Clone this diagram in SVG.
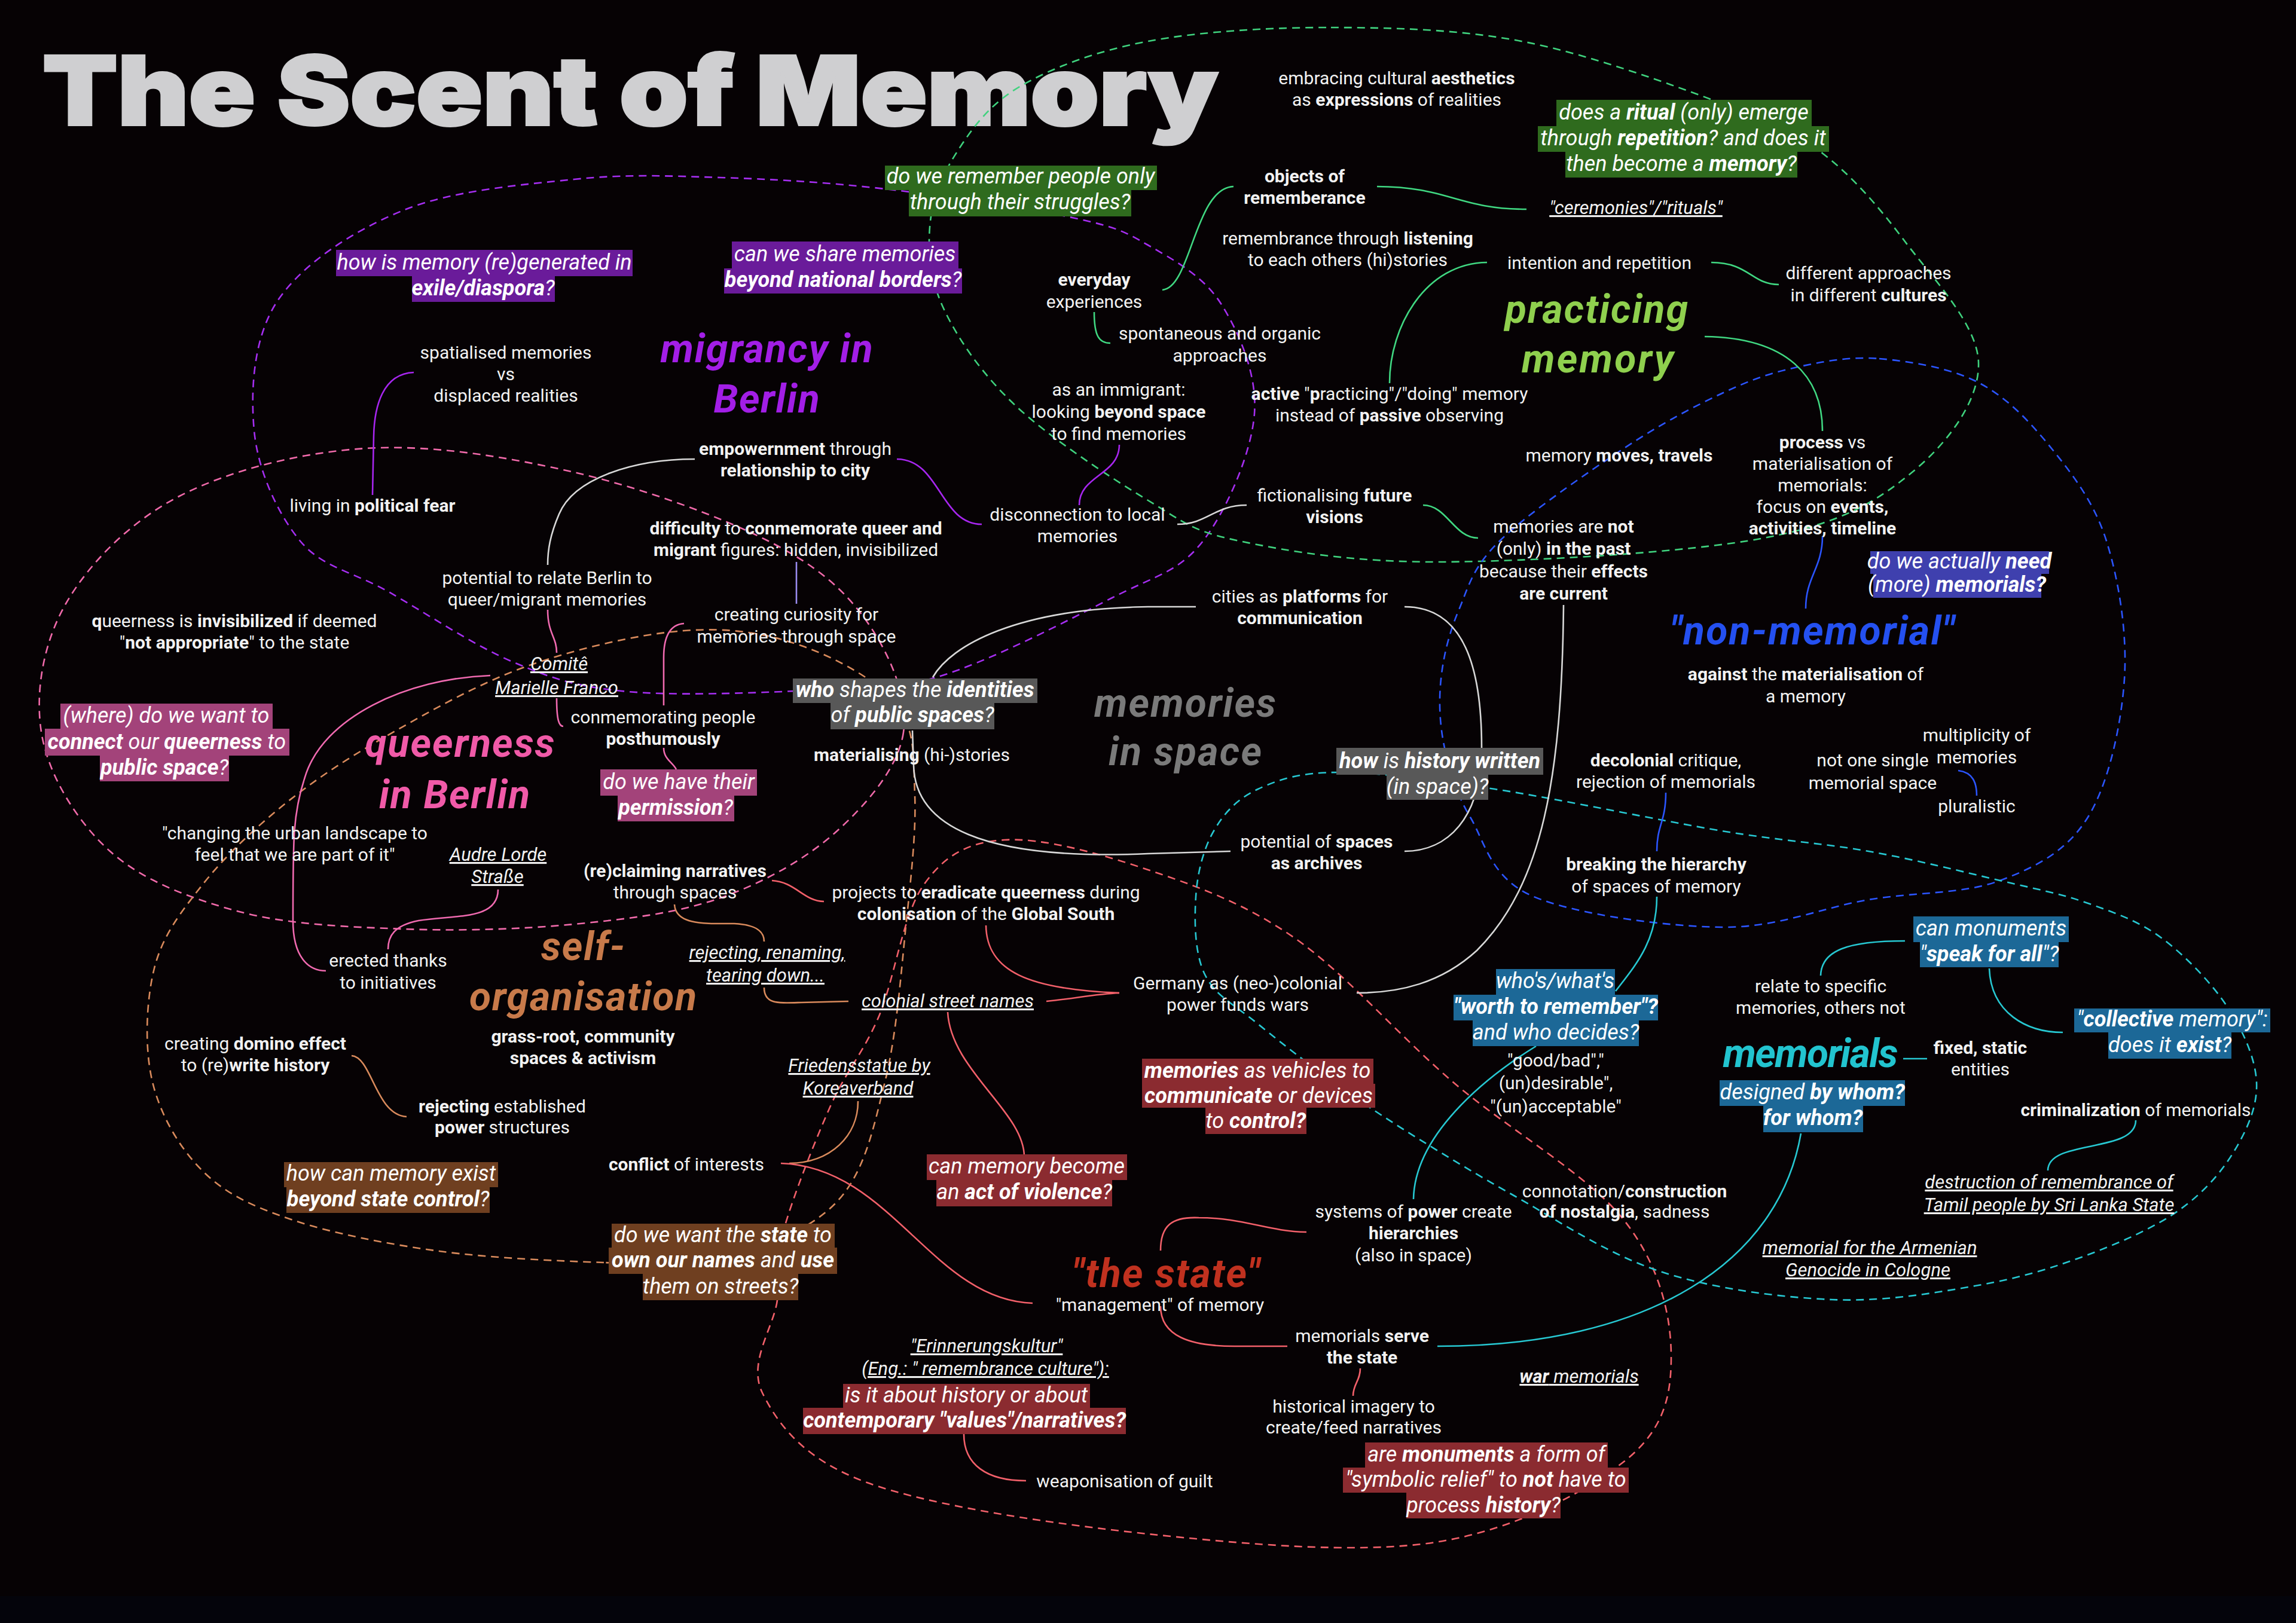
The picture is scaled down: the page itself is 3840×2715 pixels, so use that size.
<svg xmlns="http://www.w3.org/2000/svg" width="3840" height="2715" viewBox="0 0 3840 2715">
<style>
.t{font-family:Roboto,'Noto Sans',sans-serif;font-size:30px;fill:#f2f2f2;text-anchor:middle}
.b{font-weight:700}
.u{font-family:Roboto,'Noto Sans',sans-serif;font-size:31px;font-style:italic;fill:#f2f2f2;text-anchor:middle;text-decoration:underline}
.q{font-family:Roboto,'Noto Sans',sans-serif;font-size:36px;font-style:italic;fill:#ffffff;text-anchor:middle}
.h{font-family:Roboto,'Noto Sans',sans-serif;font-size:66px;font-style:italic;font-weight:700;text-anchor:middle}
.loop{fill:none;stroke-width:2.6;stroke-dasharray:13 9}
.c{fill:none;stroke-width:2.6}
.bp{fill:#6a1b9a}.bg{fill:#2f6b1e}.bk{fill:#585858}.bpk{fill:#a3437a}.bi{fill:#3f40ae}.bt{fill:#1c6897}.br{fill:#8b2b30}.bb{fill:#6f3f20}
</style>
<rect width="3840" height="2715" fill="#060204"/>
<rect y="2670" width="3840" height="45" fill="#04040b"/>

<g id="title"><text x="71" y="209" font-family="Inter, Roboto, 'DejaVu Sans', sans-serif" font-weight="900" font-size="160" fill="#cfcfd1" stroke="#cfcfd1" stroke-width="4" stroke-linejoin="miter" textLength="1966" lengthAdjust="spacingAndGlyphs">The Scent of Memory</text></g>

<g id="regions">
<path class="loop" stroke="#a52ef0" d="M1330,1156 C1242.3,1159.8 1118.8,1164.2 1040,1156 C961.2,1147.8 922,1134.7 857,1107 C792,1079.3 709.2,1023.7 650,990 C590.8,956.3 539.5,950 502,905 C464.5,860 431.2,787.2 425,720 C418.8,652.8 423.5,563.3 465,502 C506.5,440.7 591.5,385.7 674,352 C756.5,318.3 871.5,309.2 960,300 C1048.5,290.8 1118.3,294.3 1205,297 C1291.7,299.7 1382,304.8 1480,316 C1578,327.2 1719.7,348.3 1793,364 C1866.3,379.7 1878.5,386 1920,410 C1961.5,434 2012.3,461 2042,508 C2071.7,555 2103,625.8 2098,692 C2093,758.2 2051.7,853.7 2012,905 C1972.3,956.3 1934.3,962 1860,1000 C1785.7,1038 1654.3,1107 1566,1133 C1477.7,1159 1417.7,1152.2 1330,1156 Z"/>
<path class="loop" stroke="#3fd27e" d="M2226,46 C2331,46.2 2441,48.8 2550,70 C2659,91.2 2797.5,142.3 2880,173 C2962.5,203.7 2994,215.5 3045,254 C3096,292.5 3142,345.3 3186,404 C3230,462.7 3307,541.7 3309,606 C3311,670.3 3257.8,741 3198,790 C3138.2,839 3081.3,875 2950,900 C2818.7,925 2556.2,939.2 2410,940 C2263.8,940.8 2154.7,922.2 2073,905 C1991.3,887.8 1982.2,874.5 1920,837 C1857.8,799.5 1756.7,732.8 1700,680 C1643.3,627.2 1604.2,570 1580,520 C1555.8,470 1551.7,424.2 1555,380 C1558.3,335.8 1574.7,294.3 1600,255 C1625.3,215.7 1653.7,175 1707,144 C1760.3,113 1833.5,85.3 1920,69 C2006.5,52.7 2121,45.8 2226,46 Z"/>
<path class="loop" stroke="#2b55ff" d="M3143,600 C3194.2,604.2 3261,615 3309,640 C3357,665 3395.3,705.8 3431,750 C3466.7,794.2 3502.7,840.7 3523,905 C3543.3,969.3 3558.2,1059 3553,1136 C3547.8,1213 3526.7,1310.8 3492,1367 C3457.3,1423.2 3406.2,1450 3345,1473 C3283.8,1496 3202.5,1492 3125,1505 C3047.5,1518 2973.7,1552 2880,1551 C2786.3,1550 2633.2,1529.7 2563,1499 C2492.8,1468.3 2483.5,1408.3 2459,1367 C2434.5,1325.7 2424.2,1289.5 2416,1251 C2407.8,1212.5 2406,1174.5 2410,1136 C2414,1097.5 2423.7,1058.5 2440,1020 C2456.3,981.5 2462,950 2508,905 C2554,860 2654,791.2 2716,750 C2778,708.8 2832.3,680.5 2880,658 C2927.7,635.5 2958.2,624.7 3002,615 C3045.8,605.3 3091.8,595.8 3143,600 Z"/>
<path class="loop" stroke="#f06aaa" d="M1511,1225 C1502.7,1283.3 1451,1343.8 1400,1390 C1349,1436.2 1278.3,1476 1205,1502 C1131.7,1528 1048.7,1537.3 960,1546 C871.3,1554.7 766.3,1557.5 673,1554 C579.7,1550.5 481.5,1546.7 400,1525 C318.5,1503.3 239,1473.2 184,1424 C129,1374.8 82.3,1299 70,1230 C57.7,1161 71.7,1076.7 110,1010 C148.3,943.3 216.3,873.3 300,830 C383.7,786.7 502,756.7 612,750 C722,743.3 847.8,764.2 960,790 C1072.2,815.8 1203.3,863.3 1285,905 C1366.7,946.7 1412.3,986.7 1450,1040 C1487.7,1093.3 1519.3,1166.7 1511,1225 Z"/>
<path class="loop" stroke="#d98a5c" d="M1010,2112 C932.5,2109.2 821.7,2104.8 735,2093 C648.3,2081.2 555.8,2063.2 490,2041 C424.2,2018.8 379.2,1998.5 340,1960 C300.8,1921.5 268.7,1866.7 255,1810 C241.3,1753.3 244.3,1674.7 258,1620 C271.7,1565.3 301.7,1527 337,1482 C372.3,1437 419.5,1391.2 470,1350 C520.5,1308.8 571.7,1274.2 640,1235 C708.3,1195.8 796,1145 880,1115 C964,1085 1067.3,1060.8 1144,1055 C1220.7,1049.2 1280.7,1059.2 1340,1080 C1399.3,1100.8 1468.3,1138.3 1500,1180 C1531.7,1221.7 1527.5,1268.3 1530,1330 C1532.5,1391.7 1523.3,1470 1515,1550 C1506.7,1630 1499.2,1733.3 1480,1810 C1460.8,1886.7 1446.7,1960 1400,2010 C1353.3,2060 1265,2093 1200,2110 C1135,2127 1087.5,2114.8 1010,2112 Z"/>
<path class="loop" stroke="#f2606a" d="M1300,2175 C1294.2,2220 1250,2279.2 1275,2330 C1300,2380.8 1342.5,2440.7 1450,2480 C1557.5,2519.3 1761.7,2549.3 1920,2566 C2078.3,2582.7 2267.3,2600.2 2400,2580 C2532.7,2559.8 2650.2,2496.7 2716,2445 C2781.8,2393.3 2795,2337.3 2795,2270 C2795,2202.7 2776.8,2117.7 2716,2041 C2655.2,1964.3 2521.8,1888.7 2430,1810 C2338.2,1731.3 2250,1628.2 2165,1569 C2080,1509.8 2000.8,1482.3 1920,1455 C1839.2,1427.7 1742.5,1400.8 1680,1405 C1617.5,1409.2 1580,1430.8 1545,1480 C1510,1529.2 1496,1638.3 1470,1700 C1444,1761.7 1415.7,1790 1389,1850 C1362.3,1910 1324.8,2005.8 1310,2060 C1295.2,2114.2 1305.8,2130 1300,2175 Z"/>
<path class="loop" stroke="#27c8d2" d="M2240,1292 C2174,1292 2139,1303.7 2104,1320 C2069,1336.3 2047.3,1360 2030,1390 C2012.7,1420 2002.5,1460 2000,1500 C1997.5,1540 1997.7,1594.5 2015,1630 C2032.3,1665.5 2058.7,1676.3 2104,1713 C2149.3,1749.7 2215.7,1802.2 2287,1850 C2358.3,1897.8 2450.3,1953.8 2532,2000 C2613.7,2046.2 2688.3,2098 2777,2127 C2865.7,2156 2975.3,2170.2 3064,2174 C3152.7,2177.8 3237.7,2162.5 3309,2150 C3380.3,2137.5 3436,2120 3492,2099 C3548,2078 3604.2,2053 3645,2024 C3685.8,1995 3715.5,1960.7 3737,1925 C3758.5,1889.3 3776,1850.2 3774,1810 C3772,1769.8 3751.5,1724.2 3725,1684 C3698.5,1643.8 3653.8,1597.8 3615,1569 C3576.2,1540.2 3537,1527 3492,1511 C3447,1495 3406.2,1487.5 3345,1473 C3283.8,1458.5 3202.5,1437.8 3125,1424 C3047.5,1410.2 2984.2,1407.3 2880,1390 C2775.8,1372.7 2606.7,1336.3 2500,1320 C2393.3,1303.7 2306,1292 2240,1292 Z"/>
</g>

<g id="connectors">
<path class="c" stroke="#a726ef" d="M692,623 C640,625 626,680 625,730 L623,828"/>
<path class="c" stroke="#a726ef" d="M1500,768 C1572,768 1572,877 1642,877"/>
<path class="c" stroke="#a726ef" d="M1872,744 C1872,795 1805,795 1805,845"/>
<path class="c" stroke="#9a8cf0" d="M1332,940 L1332,1010"/>
<path class="c" stroke="#40d882" d="M1944,485 C1992,482 1998,314 2063,312"/>
<path class="c" stroke="#40d882" d="M2303,312 C2420,312 2440,350 2553,350"/>
<path class="c" stroke="#40d882" d="M1830,522 C1830,562 1838,574 1857,574"/>
<path class="c" stroke="#40d882" d="M2487,439 C2385,440 2324,545 2324,641"/>
<path class="c" stroke="#40d882" d="M2862,439 C2925,439 2930,476 2975,476"/>
<path class="c" stroke="#40d882" d="M2851,563 C2990,565 3048,630 3048,721"/>
<path class="c" stroke="#40d882" d="M2380,845 C2420,845 2432,900 2472,900"/>
<path class="c" stroke="#2b55ff" d="M3048,897 C3048,950 3020,965 3020,1018"/>
<path class="c" stroke="#2b55ff" d="M3275,1289 C3300,1292 3306,1310 3306,1331"/>
<path class="c" stroke="#2b55ff" d="M2786,1326 C2786,1375 2771,1380 2771,1424"/>
<path class="c" stroke="#27c8d2" d="M2771,1500 C2771,1575 2735,1615 2702,1658"/>
<path class="c" stroke="#27c8d2" d="M2569,1750 C2480,1805 2366,1900 2364,2006"/>
<path class="c" stroke="#27c8d2" d="M2404,2252 C2760,2252 2975,2110 3012,1896"/>
<path class="c" stroke="#27c8d2" d="M3186,1574 C3090,1574 3046,1590 3045,1632"/>
<path class="c" stroke="#27c8d2" d="M3327,1620 C3330,1695 3390,1727 3450,1727"/>
<path class="c" stroke="#27c8d2" d="M3183,1771 L3223,1771"/>
<path class="c" stroke="#27c8d2" d="M3572,1874 C3572,1930 3425,1905 3425,1958"/>
<path class="c" stroke="#f06ab0" d="M916,1020 C916,1060 931,1065 931,1092"/>
<path class="c" stroke="#f06ab0" d="M820,1130 C680,1135 540,1200 510,1300 C490,1360 490,1400 490,1540 C490,1600 515,1624 545,1624"/>
<path class="c" stroke="#f06ab0" d="M931,1168 C931,1205 935,1215 942,1215"/>
<path class="c" stroke="#f06ab0" d="M1144,1043 C1115,1045 1110,1075 1110,1100 L1110,1180"/>
<path class="c" stroke="#f06ab0" d="M1110,1251 C1110,1270 1125,1275 1131,1287"/>
<path class="c" stroke="#f06ab0" d="M833,1488 C833,1540 760,1530 700,1540 C660,1548 649,1565 649,1588"/>
<path class="c" stroke="#d98a5c" d="M1128,1513 C1130,1548 1180,1545 1228,1545 C1268,1547 1278,1560 1278,1575"/>
<path class="c" stroke="#d98a5c" d="M1278,1652 C1278,1680 1300,1678 1340,1677 L1419,1675"/>
<path class="c" stroke="#d98a5c" d="M588,1766 C622,1768 628,1865 680,1868"/>
<path class="c" stroke="#d98a5c" d="M1435,1842 C1435,1900 1390,1945 1320,1946"/>
<path class="c" stroke="#f2606a" d="M1291,1473 C1330,1475 1345,1508 1378,1508"/>
<path class="c" stroke="#f2606a" d="M1649,1548 C1650,1625 1720,1655 1872,1661"/>
<path class="c" stroke="#f2606a" d="M1750,1675 C1800,1670 1830,1663 1872,1661"/>
<path class="c" stroke="#f2606a" d="M1585,1693 C1590,1790 1713,1860 1713,1935"/>
<path class="c" stroke="#f2606a" d="M1306,1946 C1490,1952 1560,2175 1727,2180"/>
<path class="c" stroke="#f2606a" d="M1941,2092 C1941,2050 1960,2035 2005,2037 C2080,2037 2120,2060 2185,2061"/>
<path class="c" stroke="#f2606a" d="M1941,2185 C1941,2235 1990,2252 2065,2252 L2153,2252"/>
<path class="c" stroke="#f2606a" d="M2275,2289 C2275,2310 2263,2315 2263,2335"/>
<path class="c" stroke="#f2606a" d="M1612,2399 C1612,2450 1650,2477 1716,2477"/>
<path class="c" stroke="#d8d8d8" d="M1162,768 C1060,768 960,800 935,860 C920,895 916,920 916,945"/>
<path class="c" stroke="#d8d8d8" d="M2085,845 C2030,845 2020,877 1969,877"/>
<path class="c" stroke="#d8d8d8" d="M2000,1015 L1920,1015 C1700,1018 1590,1080 1560,1133"/>
<path class="c" stroke="#d8d8d8" d="M2349,1015 C2450,1015 2478,1120 2478,1250 C2478,1370 2420,1424 2349,1424"/>
<path class="c" stroke="#d8d8d8" d="M2058,1424 L1920,1428 C1640,1440 1530,1380 1528,1280 L1526,1222"/>
<path class="c" stroke="#d8d8d8" d="M2615,1012 C2612,1300 2580,1480 2470,1590 C2410,1645 2340,1661 2269,1661"/>
</g>

<g id="n-migrancy"><text class="h" fill="#a21ee6" x="1282" y="606" textLength="355">migrancy in</text><text class="h" fill="#a21ee6" x="1282" y="690" textLength="177">Berlin</text></g>
<g id="n-practicing"><text class="h" fill="#8fd04e" x="2670" y="540" textLength="306">practicing</text><text class="h" fill="#8fd04e" x="2672" y="623" textLength="254">memory</text></g>
<g id="n-memories-space"><text class="h" fill="#7a7a7a" x="1982" y="1199" textLength="304">memories</text><text class="h" fill="#7a7a7a" x="1982" y="1280" textLength="256">in space</text></g>
<g id="n-nonmemorial"><text class="h" fill="#2450f0" x="3031" y="1078" textLength="476">"non-memorial"</text></g>
<g id="n-queerness"><text class="h" fill="#f05aa8" x="769" y="1266" textLength="317">queerness</text><text class="h" fill="#f05aa8" x="760" y="1352" textLength="252">in Berlin</text></g>
<g id="n-selforg"><text class="h" fill="#c87a4a" x="975" y="1606" textLength="140">self-</text><text class="h" fill="#c87a4a" x="975" y="1690" textLength="380">organisation</text></g>
<g id="n-state"><text class="h" fill="#c0311f" x="1950" y="2153" textLength="314">"the state"</text></g>
<g id="n-memorials"><text class="h" fill="#22c4cf" x="3028" y="1785" textLength="293">memorials</text></g>

<g id="n-spatialised"><text class="t" x="846" y="600">spatialised memories</text><text class="t" x="846" y="636">vs</text><text class="t" x="846" y="672">displaced realities</text></g>
<g id="n-fear"><text class="t" x="623" y="856">living in <tspan class="b">political fear</tspan></text></g>
<g id="n-aesthetics"><text class="t" x="2336" y="141">embracing cultural <tspan class="b">aesthetics</tspan></text><text class="t" x="2336" y="177">as <tspan class="b">expressions</tspan> of realities</text></g>
<g id="n-objects"><text class="t b" x="2182" y="305">objects of</text><text class="t b" x="2182" y="341">rememberance</text></g>
<g id="n-listening"><text class="t" x="2254" y="409">remembrance through <tspan class="b">listening</tspan></text><text class="t" x="2254" y="445">to each others (hi)stories</text></g>
<g id="n-intention"><text class="t" x="2675" y="450">intention and repetition</text></g>
<g id="n-cultures"><text class="t" x="3125" y="467">different approaches</text><text class="t" x="3125" y="504">in different <tspan class="b">cultures</tspan></text></g>
<g id="n-everyday"><text class="t b" x="1830" y="478">everyday</text><text class="t" x="1830" y="515">experiences</text></g>
<g id="n-spontaneous"><text class="t" x="2040" y="568">spontaneous and organic</text><text class="t" x="2040" y="605">approaches</text></g>
<g id="n-immigrant"><text class="t" x="1871" y="662">as an immigrant:</text><text class="t" x="1871" y="699">looking <tspan class="b">beyond space</tspan></text><text class="t" x="1871" y="736">to find memories</text></g>
<g id="n-active"><text class="t" x="2324" y="669"><tspan class="b">active</tspan> "<tspan class="b">p</tspan>racticing"/"doing" memory</text><text class="t" x="2324" y="705">instead of <tspan class="b">passive</tspan> observing</text></g>
<g id="n-moves"><text class="t" x="2708" y="772">memory <tspan class="b">moves, travels</tspan></text></g>
<g id="n-process"><text class="t" x="3048" y="750"><tspan class="b">process</tspan> vs</text><text class="t" x="3048" y="786">materialisation of</text><text class="t" x="3048" y="822">memorials:</text><text class="t" x="3048" y="858">focus on <tspan class="b">events,</tspan></text><text class="t b" x="3048" y="894">activities, timeline</text></g>
<g id="n-fictionalising"><text class="t" x="2232" y="839">fictionalising <tspan class="b">future</tspan></text><text class="t b" x="2232" y="875">visions</text></g>
<g id="n-notpast"><text class="t" x="2615" y="891">memories are <tspan class="b">not</tspan></text><text class="t" x="2615" y="928">(only) <tspan class="b">in the past</tspan></text><text class="t" x="2615" y="966">because their <tspan class="b">effects</tspan></text><text class="t b" x="2615" y="1003">are current</text></g>
<g id="n-empowernment"><text class="t" x="1330" y="761"><tspan class="b">empowernment</tspan> through</text><text class="t b" x="1330" y="797">relationship to city</text></g>
<g id="n-disconnection"><text class="t" x="1802" y="871">disconnection to local</text><text class="t" x="1802" y="907">memories</text></g>
<g id="n-difficulty"><text class="t" x="1331" y="894"><tspan class="b">difficulty</tspan> to <tspan class="b">conmemorate queer and</tspan></text><text class="t" x="1331" y="930"><tspan class="b">migrant</tspan> figures: hidden, invisibilized</text></g>
<g id="n-potential-relate"><text class="t" x="915" y="977">potential to relate Berlin to</text><text class="t" x="915" y="1013">queer/migrant memories</text></g>
<g id="n-invisibilized"><text class="t" x="392" y="1049"><tspan class="b">q</tspan>ueerness is <tspan class="b">invisibilized</tspan> if deemed</text><text class="t" x="392" y="1085">"<tspan class="b">not appropriate</tspan>" to the state</text></g>
<g id="n-curiosity"><text class="t" x="1332" y="1038">creating curiosity for</text><text class="t" x="1332" y="1075">memories through space</text></g>
<g id="n-posthumously"><text class="t" x="1109" y="1210">conmemorating people</text><text class="t b" x="1109" y="1246">posthumously</text></g>
<g id="n-materialising"><text class="t" x="1525" y="1273"><tspan class="b">materialising</tspan> (hi-)stories</text></g>
<g id="n-platforms"><text class="t" x="2174" y="1008">cities as <tspan class="b">platforms</tspan> for</text><text class="t b" x="2174" y="1044">communication</text></g>
<g id="n-archives"><text class="t" x="2202" y="1418">potential of <tspan class="b">spaces</tspan></text><text class="t b" x="2202" y="1454">as archives</text></g>
<g id="n-decolonial"><text class="t" x="2786" y="1282"><tspan class="b">decolonial</tspan> critique,</text><text class="t" x="2786" y="1318">rejection of memorials</text></g>
<g id="n-hierarchy"><text class="t b" x="2770" y="1456">breaking the hierarchy</text><text class="t" x="2770" y="1493">of spaces of memory</text></g>
<g id="n-against"><text class="t" x="3020" y="1138"><tspan class="b">against</tspan> the <tspan class="b">materialisation</tspan> of</text><text class="t" x="3020" y="1175">a memory</text></g>
<g id="n-multiplicity"><text class="t" x="3306" y="1240">multiplicity of</text><text class="t" x="3306" y="1277">memories</text></g>
<g id="n-single"><text class="t" x="3132" y="1282">not one single</text><text class="t" x="3132" y="1320">memorial space</text></g>
<g id="n-pluralistic"><text class="t" x="3306" y="1359">pluralistic</text></g>
<g id="n-specific"><text class="t" x="3045" y="1660">relate to specific</text><text class="t" x="3045" y="1696">memories, others not</text></g>
<g id="n-fixed"><text class="t b" x="3312" y="1763">fixed, static</text><text class="t" x="3312" y="1799">entities</text></g>
<g id="n-criminalization"><text class="t" x="3572" y="1867"><tspan class="b">criminalization</tspan> of memorials</text></g>
<g id="n-goodbad"><text class="t" x="2602" y="1784">"good/bad","</text><text class="t" x="2602" y="1822">(un)desirable",</text><text class="t" x="2602" y="1861">"(un)acceptable"</text></g>
<g id="n-nostalgia"><text class="t" x="2717" y="2003">connotation/<tspan class="b">construction</tspan></text><text class="t" x="2717" y="2037"><tspan class="b">of nostalgia</tspan>, sadness</text></g>
<g id="n-power"><text class="t" x="2364" y="2037">systems of <tspan class="b">power</tspan> create</text><text class="t b" x="2364" y="2073">hierarchies</text><text class="t" x="2364" y="2110">(also in space)</text></g>
<g id="n-management"><text class="t" x="1940" y="2193">"management" of memory</text></g>
<g id="n-serve"><text class="t" x="2278" y="2245">memorials <tspan class="b">serve</tspan></text><text class="t b" x="2278" y="2281">the state</text></g>
<g id="n-imagery"><text class="t" x="2264" y="2363">historical imagery to</text><text class="t" x="2264" y="2398">create/feed narratives</text></g>
<g id="n-guilt"><text class="t" x="1881" y="2488">weaponisation of guilt</text></g>
<g id="n-conflict"><text class="t" x="1148" y="1958"><tspan class="b">conflict</tspan> of interests</text></g>
<g id="n-rejecting-power"><text class="t" x="840" y="1861"><tspan class="b">rejecting</tspan> established</text><text class="t" x="840" y="1896"><tspan class="b">power</tspan> structures</text></g>
<g id="n-domino"><text class="t" x="427" y="1756">creating <tspan class="b">domino effect</tspan></text><text class="t" x="427" y="1792">to (re)<tspan class="b">write history</tspan></text></g>
<g id="n-grassroot"><text class="t b" x="975" y="1744">grass-root, community</text><text class="t b" x="975" y="1780">spaces &amp; activism</text></g>
<g id="n-erected"><text class="t" x="649" y="1617">erected thanks</text><text class="t" x="649" y="1654">to initiatives</text></g>
<g id="n-changing"><text class="t" x="493" y="1404">"changing the urban landscape to</text><text class="t" x="493" y="1440">feel that we are part of it"</text></g>
<g id="n-reclaiming"><text class="t b" x="1129" y="1467">(re)claiming narratives</text><text class="t" x="1129" y="1503">through spaces</text></g>
<g id="n-eradicate"><text class="t" x="1649" y="1503">projects to <tspan class="b">eradicate queerness</tspan> during</text><text class="t" x="1649" y="1539"><tspan class="b">colonisation</tspan> of the <tspan class="b">Global South</tspan></text></g>
<g id="n-germany"><text class="t" x="2070" y="1655">Germany as (neo-)colonial</text><text class="t" x="2070" y="1691">power funds wars</text></g>

<g id="n-ceremonies"><text class="u" x="2736" y="358">"ceremonies"/"rituals"</text></g>
<g id="n-comite"><text class="u" x="935" y="1121">Comitê</text><text class="u" x="931" y="1161">Marielle Franco</text></g>
<g id="n-audre"><text class="u" x="833" y="1440">Audre Lorde</text><text class="u" x="832" y="1477">Straße</text></g>
<g id="n-renaming"><text class="u" x="1283" y="1604">rejecting, renaming,</text><text class="u" x="1280" y="1642">tearing down...</text></g>
<g id="n-colonial-streets"><text class="u" x="1585" y="1685">colonial street names</text></g>
<g id="n-friedensstatue"><text class="u" x="1437" y="1793">Friedensstatue by </text><text class="u" x="1435" y="1831">Koreaverband</text></g>
<g id="n-erinnerung"><text class="u" x="1650" y="2262">"Erinnerungskultur" </text><text class="u" x="1648" y="2300">(Eng.: " remembrance culture"):</text></g>
<g id="n-war"><text class="u" x="2641" y="2313"><tspan class="b">war</tspan> memorials</text></g>
<g id="n-tamil"><text class="u" x="3427" y="1988">destruction of remembrance of </text><text class="u" x="3427" y="2026">Tamil people by Sri Lanka State</text></g>
<g id="n-armenian"><text class="u" x="3127" y="2098">memorial for the Armenian </text><text class="u" x="3124" y="2135">Genocide in Cologne</text></g>

<g id="q-exile"><rect class="bp" x="562" y="418" width="496" height="44"/><rect class="bp" x="689" y="462" width="239" height="43"/><text class="q" x="810" y="451">how is memory (re)generated in</text><text class="q" x="808" y="494"><tspan class="b">exile/diaspora</tspan>?</text></g>
<g id="q-borders"><rect class="bp" x="1224" y="404" width="379" height="45"/><rect class="bp" x="1211" y="449" width="398" height="42"/><text class="q" x="1413" y="437">can we share memories</text><text class="q" x="1410" y="480"><tspan class="b">beyond national borders</tspan>?</text></g>
<g id="q-struggles"><rect class="bg" x="1480" y="277" width="455" height="41"/><rect class="bg" x="1520" y="318" width="372" height="44"/><text class="q" x="1707" y="307">do we remember people only</text><text class="q" x="1706" y="350">through their struggles?</text></g>
<g id="q-ritual"><rect class="bg" x="2603" y="167" width="427" height="44"/><rect class="bg" x="2572" y="211" width="487" height="43"/><rect class="bg" x="2618" y="254" width="388" height="43"/><text class="q" x="2816" y="200">does a <tspan class="b">ritual</tspan> (only) emerge</text><text class="q" x="2815" y="243">through <tspan class="b">repetition</tspan>? and does it</text><text class="q" x="2812" y="286">then become a <tspan class="b">memory</tspan>?</text></g>
<g id="q-identities"><rect class="bk" x="1326" y="1135" width="409" height="41"/><rect class="bk" x="1389" y="1176" width="274" height="44"/><text class="q" x="1530" y="1166"><tspan class="b">who</tspan> shapes the <tspan class="b">identities</tspan></text><text class="q" x="1526" y="1208">of <tspan class="b">public spaces</tspan>?</text></g>
<g id="q-permission"><rect class="bpk" x="1004" y="1287" width="262" height="44"/><rect class="bpk" x="1033" y="1331" width="195" height="43"/><text class="q" x="1135" y="1320">do we have their</text><text class="q" x="1130" y="1363"><tspan class="b">permission</tspan>?</text></g>
<g id="q-connect"><rect class="bpk" x="101" y="1177" width="355" height="42"/><rect class="bpk" x="75" y="1219" width="409" height="45"/><rect class="bpk" x="167" y="1264" width="216" height="43"/><text class="q" x="278" y="1209">(where) do we want to</text><text class="q" x="279" y="1253"><tspan class="b">connect</tspan> our <tspan class="b">queerness</tspan> to</text><text class="q" x="275" y="1296"><tspan class="b">public space</tspan>?</text></g>
<g id="q-history"><rect class="bk" x="2235" y="1251" width="346" height="45"/><rect class="bk" x="2319" y="1296" width="170" height="42"/><text class="q" x="2408" y="1285"><tspan class="b">how</tspan> is <tspan class="b">history written</tspan></text><text class="q" x="2404" y="1328">(in space)?</text></g>
<g id="q-need"><rect class="bi" x="3128" y="922" width="299" height="38"/><rect class="bi" x="3133" y="960" width="281" height="40"/><text class="q" x="3277" y="951">do we actually <tspan class="b">need</tspan></text><text class="q" x="3273" y="990">(more) <tspan class="b">memorials?</tspan></text></g>
<g id="q-speak"><rect class="bt" x="3200" y="1533" width="260" height="43"/><rect class="bt" x="3211" y="1576" width="232" height="42"/><text class="q" x="3330" y="1565">can monuments</text><text class="q" x="3327" y="1608">"<tspan class="b">speak for all</tspan>"?</text></g>
<g id="q-collective"><rect class="bt" x="3469" y="1687" width="328" height="40"/><rect class="bt" x="3526" y="1727" width="206" height="44"/><text class="q" x="3633" y="1717">"<tspan class="b">collective</tspan> memory":</text><text class="q" x="3629" y="1760">does it <tspan class="b">exist</tspan>?</text></g>
<g id="q-designed"><rect class="bt" x="2876" y="1807" width="310" height="43"/><rect class="bt" x="2949" y="1850" width="167" height="44"/><text class="q" x="3031" y="1839">designed <tspan class="b">by whom?</tspan></text><text class="q b" x="3032" y="1882">for whom?</text></g>
<g id="q-worth"><rect class="bt" x="2502" y="1621" width="199" height="43"/><rect class="bt" x="2431" y="1664" width="342" height="43"/><rect class="bt" x="2463" y="1707" width="278" height="43"/><text class="q" x="2601" y="1653">who's/what's</text><text class="q b" x="2602" y="1696">"worth to remember"?</text><text class="q" x="2602" y="1739">and who decides?</text></g>
<g id="q-vehicles"><rect class="br" x="1910" y="1771" width="387" height="42"/><rect class="br" x="1910" y="1813" width="390" height="40"/><rect class="br" x="2016" y="1853" width="169" height="44"/><text class="q" x="2103" y="1803"><tspan class="b">memories</tspan> as vehicles to</text><text class="q" x="2105" y="1845"><tspan class="b">communicate</tspan> or devices</text><text class="q" x="2100" y="1887">to <tspan class="b">control?</tspan></text></g>
<g id="q-violence"><rect class="br" x="1550" y="1931" width="335" height="43"/><rect class="br" x="1566" y="1974" width="294" height="44"/><text class="q" x="1717" y="1963">can memory become</text><text class="q" x="1713" y="2006">an <tspan class="b">act of violence</tspan>?</text></g>
<g id="q-values"><rect class="br" x="1410" y="2315" width="413" height="40"/><rect class="br" x="1343" y="2355" width="540" height="44"/><text class="q" x="1616" y="2346">is it about history or about</text><text class="q b" x="1613" y="2388">contemporary "values"/narratives?</text></g>
<g id="q-relief"><rect class="br" x="2283" y="2413" width="406" height="42"/><rect class="br" x="2246" y="2455" width="478" height="42"/><rect class="br" x="2352" y="2497" width="258" height="43"/><text class="q" x="2486" y="2445">are <tspan class="b">monuments</tspan> a form of</text><text class="q" x="2485" y="2487">"symbolic relief" to <tspan class="b">not</tspan> have to</text><text class="q" x="2481" y="2530">process <tspan class="b">history</tspan>?</text></g>
<g id="q-names"><rect class="bb" x="1023" y="2047" width="373" height="40"/><rect class="bb" x="1018" y="2087" width="382" height="44"/><rect class="bb" x="1075" y="2131" width="260" height="44"/><text class="q" x="1209" y="2078">do we want the <tspan class="b">state</tspan> to</text><text class="q" x="1209" y="2120"><tspan class="b">own our names</tspan> and <tspan class="b">use</tspan></text><text class="q" x="1205" y="2164">them on streets?</text></g>
<g id="q-control"><rect class="bb" x="475" y="1944" width="358" height="42"/><rect class="bb" x="479" y="1986" width="340" height="43"/><text class="q" x="654" y="1975">how can memory exist</text><text class="q" x="649" y="2018"><tspan class="b">beyond state control</tspan>?</text></g>
</svg>
